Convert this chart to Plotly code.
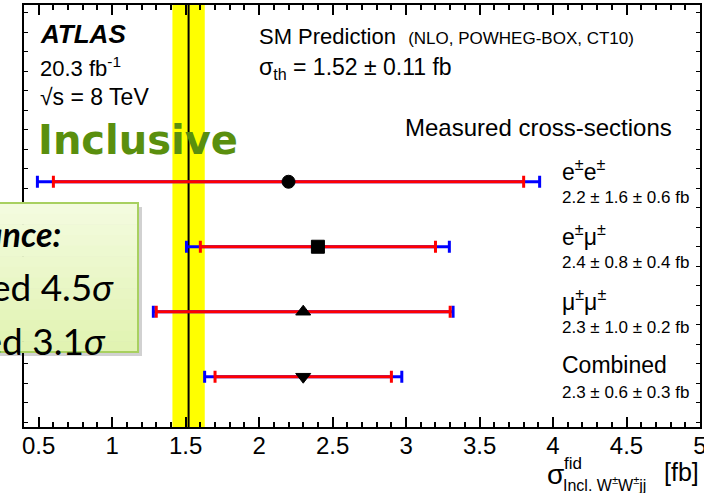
import plotly.graph_objects as go

# Channels, top to bottom
channels = ["e<sup>±</sup>e<sup>±</sup>", "e<sup>±</sup>μ<sup>±</sup>", "μ<sup>±</sup>μ<sup>±</sup>", "Combined"]
row_pos = [4, 3, 2, 1]
xsec = [2.2, 2.4, 2.3, 2.3]
stat = [1.6, 0.8, 1.0, 0.6]
syst = [0.6, 0.4, 0.2, 0.3]
symbols = ["circle", "square", "triangle-up", "triangle-down"]
marker_sizes = [13, 13, 13, 13]

# SM prediction
sm_value = 1.52
sm_error = 0.11

# Axis ticks
x_tickvals = [0.5, 1, 1.5, 2, 2.5, 3, 3.5, 4, 4.5, 5]
x_ticktext = ["0.5", "1", "1.5", "2", "2.5", "3", "3.5", "4", "4.5", "5"]
x_range = [0.4, 5.0]

total = [(a ** 2 + b ** 2) ** 0.5 for a, b in zip(stat, syst)]
value_labels = [f"{v} ± {a} ± {b} fb" for v, a, b in zip(xsec, stat, syst)]

FONT = "Liberation Sans, Arial, Helvetica, sans-serif"
L, R, T, B = 24, 4, 5, 66
W, H = 704, 493
PW, PH = W - L - R, H - T - B


def px(x):
    return (x - L) / PW


def py(y):
    return (H - B - y) / PH


fig = go.Figure()

# total uncertainty (blue) underneath statistical (red)
fig.add_trace(go.Scatter(
    x=xsec, y=row_pos, mode="markers",
    marker=dict(size=1, color="rgba(0,0,0,0)"),
    error_x=dict(type="data", array=total, color="#0000ff", thickness=3, width=6),
    hoverinfo="skip", showlegend=False,
))
fig.add_trace(go.Scatter(
    x=xsec, y=row_pos, mode="markers",
    marker=dict(size=marker_sizes, color="black", symbol=symbols, opacity=1,
                line=dict(width=1, color="black")),
    error_x=dict(type="data", array=stat, color="#ff0000", thickness=3, width=6),
    showlegend=False,
))

# SM prediction band and central value
fig.add_shape(type="rect", xref="x", yref="paper", x0=sm_value - sm_error, x1=sm_value + sm_error,
              y0=0, y1=1, fillcolor="#ffff00", line=dict(width=0), layer="below")
fig.add_shape(type="line", xref="x", yref="paper", x0=sm_value, x1=sm_value, y0=0, y1=1,
              line=dict(color="black", width=2), layer="below")

ann = []


def text(x, y, s, size, xanchor="left", yanchor="middle", color="black", family=FONT, **kw):
    ann.append(dict(x=x, y=y, xref="paper", yref="paper", text=s, showarrow=False,
                    xanchor=xanchor, yanchor=yanchor,
                    font=dict(size=size, color=color, family=family), **kw))


text(px(38), py(34), "<b><i>ATLAS</i></b>", 26)
text(px(38), py(67), "20.3 fb<sup>-1</sup>", 22)
text(px(38), py(97), "√s = 8 TeV", 23)
text(px(36), py(140), "<b>Inclusive</b>", 40, color="#5a8f0e",
     family="DejaVu Sans, sans-serif")
text(px(257), py(36),
     "SM Prediction&nbsp;&nbsp;<span style='font-size:17px'>(NLO, POWHEG-BOX, CT10)</span>", 22)
text(px(257), py(68), f"σ<sub>th</sub> = {sm_value} ± {sm_error} fb", 23)
text(px(674), py(128), "Measured cross-sections", 24, xanchor="right")

for name, yv, lab in zip(channels, row_pos, value_labels):
    ann.append(dict(x=4.05, y=yv, xref="x", yref="y", text=name, showarrow=False,
                    xanchor="left", yanchor="middle", yshift=12,
                    font=dict(size=23, color="black", family=FONT)))
    ann.append(dict(x=4.05, y=yv, xref="x", yref="y", text=lab, showarrow=False,
                    xanchor="left", yanchor="middle", yshift=-16,
                    font=dict(size=17, color="black", family=FONT)))

# x-axis title
text(px(545), py(474), "σ", 28)
text(px(562), py(463), "fid", 17)
text(px(561), py(484), "Incl. W<sup>±</sup>W<sup>±</sup>jj", 16)
text(px(701), py(472), "[fb]", 25, xanchor="right")

# significance call-out box
box_x0, box_x1, box_y0, box_y1 = -20, 138, 203, 352
fig.add_shape(type="rect", xref="paper", yref="paper",
              x0=px(box_x0 + 4), x1=px(box_x1 + 4), y0=py(box_y1 + 4), y1=py(box_y0 + 4),
              fillcolor="rgba(0,0,0,0.18)", line=dict(width=0), layer="above")
n_steps = 14
top_rgb, bot_rgb = (243, 251, 222), (225, 243, 178)
for i in range(n_steps):
    f = i / (n_steps - 1)
    c = tuple(round(a + (b - a) * f) for a, b in zip(top_rgb, bot_rgb))
    ya = box_y0 + (box_y1 - box_y0) * i / n_steps
    yb = box_y0 + (box_y1 - box_y0) * (i + 1) / n_steps
    fig.add_shape(type="rect", xref="paper", yref="paper",
                  x0=px(box_x0), x1=px(box_x1), y0=py(yb + 0.5), y1=py(ya),
                  fillcolor=f"rgb{c}", line=dict(width=0), layer="above")
fig.add_shape(type="rect", xref="paper", yref="paper",
              x0=px(box_x0), x1=px(box_x1), y0=py(box_y1), y1=py(box_y0),
              fillcolor="rgba(0,0,0,0)", line=dict(color="#a8d060", width=2), layer="above")

text(px(63), py(233), "<b><i>Significance:</i></b>", 34, xanchor="right",
     family="Lato, sans-serif")
text(px(116), py(286), "Expected 4.5<i>σ</i>", 37, xanchor="right", family="Lato, sans-serif")
text(px(108), py(340), "Observed 3.1<i>σ</i>", 37, xanchor="right", family="Lato, sans-serif")

tick_common = dict(ticks="inside", ticklen=10, tickwidth=1.5, tickcolor="black",
                   minor=dict(dtick=0.1, tick0=0, ticks="inside", ticklen=5,
                              tickwidth=1.5, tickcolor="black"))

fig.update_layout(
    width=W, height=H,
    margin=dict(l=L, r=R, t=T, b=B, autoexpand=False),
    paper_bgcolor="white", plot_bgcolor="white",
    annotations=ann,
    xaxis=dict(
        range=x_range, tickvals=x_tickvals, ticktext=x_ticktext,
        showline=True, linecolor="black", linewidth=2, mirror=True,
        showgrid=False, zeroline=False, automargin=False,
        tickfont=dict(size=24, color="black", family=FONT),
        ticklabelstandoff=-4, ticklabeloverflow="allow",
        **tick_common,
    ),
    xaxis2=dict(
        range=x_range, tickvals=x_tickvals, overlaying="x", side="top",
        showticklabels=False, showline=False, showgrid=False, zeroline=False,
        automargin=False,
        **tick_common,
    ),
    yaxis=dict(
        range=[0.226, 6.72], dtick=0.3, tick0=0,
        ticks="inside", ticklen=4, tickwidth=1.2, tickcolor="black",
        showticklabels=False, showline=True, linecolor="black", linewidth=2, mirror="ticks",
        showgrid=False, zeroline=False, automargin=False,
    ),
)

# empty trace so the top axis is drawn
fig.add_trace(go.Scatter(x=[], y=[], xaxis="x2", yaxis="y", showlegend=False, hoverinfo="skip"))

fig.write_html("out.html")
